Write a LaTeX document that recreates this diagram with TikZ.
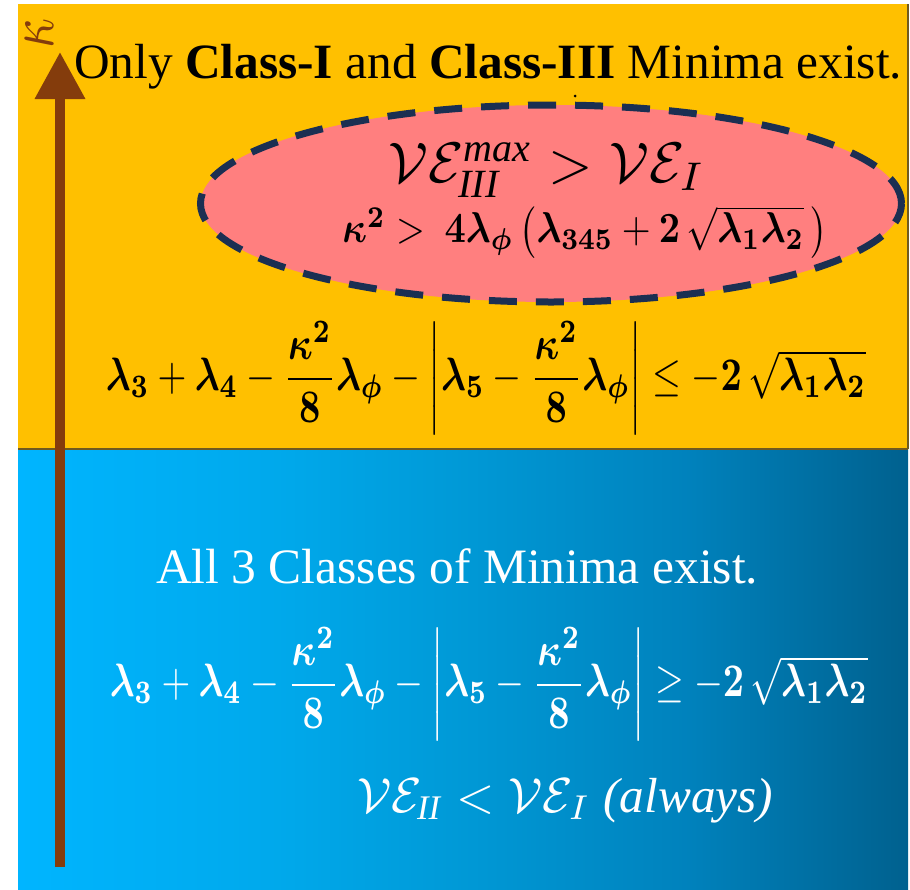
\documentclass[tikz,border=0pt]{standalone}
\usepackage{amsmath,bm,graphicx}
\usepackage{fontspec}
\setmainfont{Liberation Serif}
\usetikzlibrary{arrows.meta,shapes.geometric}
\definecolor{orng}{HTML}{FFC000}
\definecolor{pinkc}{HTML}{FF7F7F}
\definecolor{navyd}{HTML}{1B2F52}
\definecolor{brownk}{HTML}{843C0C}
\definecolor{sepc}{HTML}{6F5A20}
\pgfdeclarehorizontalshading{bluegrad}{100bp}{rgb(0bp)=(0,0.71,1); rgb(25bp)=(0,0.71,1); rgb(40bp)=(0,0.66,0.92); rgb(50bp)=(0,0.60,0.84); rgb(62.5bp)=(0,0.51,0.74); rgb(75bp)=(0,0.38,0.56); rgb(100bp)=(0,0.38,0.56)}
\newcommand\lam[1]{\bm{\lambda}_{\bm{#1}}}
\newcommand\kk{\bm{\kappa}^{\bm{2}}}
\begin{document}
\begin{tikzpicture}[x=1pt,y=-1pt,
  txt/.style={inner sep=0pt, outer sep=0pt},
  wtxt/.style={txt, text=white}]
\useasboundingbox (0,0) rectangle (910,889);
% panels
\fill[orng] (18,4) rectangle (908,449);
\shade[shading=bluegrad] (18,449) rectangle (908,889);
\draw[sepc, line width=1.2pt] (18,449) -- (908,449);
\draw[sepc, line width=1.2pt] (908,4) -- (908,449);
% kappa axis
\coordinate (kbot) at (60,867);
\coordinate (ktop) at (60,52);
\draw[brownk, line width=10pt, -{Triangle[width=48pt,length=47pt]}] (kbot) -- (ktop);
\node[txt, text=brownk, rotate=90] (kappa) at (39,33) {\resizebox{30pt}{28pt}{$\kappa$}};
% title
\node[txt, anchor=base west] (title) at (74,78) {\resizebox{828pt}{!}{Only \textbf{Class-I} and \textbf{Class-III} Minima exist.}};
% ellipse
\node[ellipse, draw=navyd, fill=pinkc, line width=7pt, dash pattern=on 28pt off 19pt, minimum width=701pt, minimum height=197pt, inner sep=0pt] (ell) at (551,203.5) {};
\fill[black] (575,96) circle (1.5pt);
\node[txt, anchor=base] (vecmp) at (547,182) {\resizebox{317pt}{!}{$\mathcal{V}\mathcal{E}_{\mathit{III}}^{\mathit{max}} > \mathcal{V}\mathcal{E}_{I}$}};
\node[txt] (kcond) at (585,232) {\resizebox*{485pt}{52pt}{$\kk >\ \bm{4}\lam\phi\left(\lam{345} + \bm{2}\,\sqrt{\lam1\lam2}\,\right)$}};
% orange inequality
\node[txt] (ineqA) at (486,378) {\resizebox*{760pt}{114pt}{$\lam3 + \lam4 - \dfrac{\kk}{\bm 8}\lam\phi - \left|\lam5 - \dfrac{\kk}{\bm 8}\lam\phi\right| \le -\bm{2}\,\sqrt{\lam1\lam2}$}};
% blue part
\node[wtxt, anchor=base west] (allthree) at (156,583) {\resizebox{602pt}{!}{All 3 Classes of Minima exist.}};
\node[wtxt] (ineqB) at (489,684) {\resizebox*{758pt}{114pt}{$\lam3 + \lam4 - \dfrac{\kk}{\bm 8}\lam\phi - \left|\lam5 - \dfrac{\kk}{\bm 8}\lam\phi\right| \ge -\bm{2}\,\sqrt{\lam1\lam2}$}};
\node[wtxt, anchor=base west] (vecII) at (357,812) {\resizebox{416pt}{!}{$\mathcal{V}\mathcal{E}_{\mathit{II}} < \mathcal{V}\mathcal{E}_{I}$ \textit{(always)}}};
\end{tikzpicture}
\end{document}
